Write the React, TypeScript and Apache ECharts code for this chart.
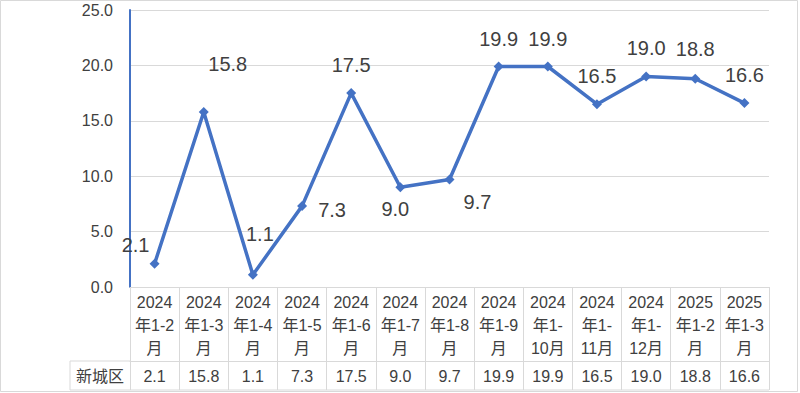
import React, { useEffect, useRef } from "react";
import * as echarts from "echarts";

const categories = [
  "2024年1-2月", "2024年1-3月", "2024年1-4月", "2024年1-5月", "2024年1-6月",
  "2024年1-7月", "2024年1-8月", "2024年1-9月", "2024年1-10月", "2024年1-11月",
  "2024年1-12月", "2025年1-2月", "2025年1-3月",
];
const seriesName = "新城区";
const values = [2.1, 15.8, 1.1, 7.3, 17.5, 9.0, 9.7, 19.9, 19.9, 16.5, 19.0, 18.8, 16.6];
const yTicks = [0, 5, 10, 15, 20, 25];

// label placement (styling), relative to the point
const labelOffsets: [number, number][] = [
  [-19, -19], [24, -48], [7, -41], [30, 4], [0, -28], [-5, 22], [28, 22],
  [0, -28], [0, -28], [0, -28], [0, -28], [0, -30], [0, -28],
];

const FONT = "'Liberation Sans', 'Noto Sans CJK SC', sans-serif";
const TXT = "#404040";
const GRID = "#d9d9d9";
const BLUE = "#4472C4";

function wrapCat(s: string) {
  const year = s.slice(0, 4);
  const rest = s.slice(4);
  const m = rest.match(/^(年1-)(\d+)(月)$/);
  if (!m) return s;
  if (m[2].length > 1) return `${year}\n${m[1]}\n${m[2]}${m[3]}`;
  return `${year}\n${m[1]}${m[2]}\n${m[3]}`;
}

export default function App() {
  const ref = useRef<HTMLDivElement>(null);
  useEffect(() => {
    document.body.style.margin = "0";
    const chart = echarts.init(ref.current!, null, { renderer: "svg" });
    const left = 130, right = 31, top = 10, bottom = 106;
    const axisY = 393 - bottom;
    chart.setOption({
      animation: false,
      textStyle: { fontFamily: FONT },
      grid: { left, right, top, bottom, containLabel: false },
      xAxis: [
        {
          type: "category",
          data: categories,
          boundaryGap: true,
          axisLine: { show: true, lineStyle: { color: GRID, width: 1 } },
          axisTick: { show: true, interval: 0, length: 74, lineStyle: { color: GRID, width: 1 } },
          axisLabel: {
            interval: 0,
            formatter: (v: string) => wrapCat(v),
            color: TXT,
            fontSize: 16,
            lineHeight: 23,
            margin: 4,
            fontFamily: FONT,
          },
        },
        {
          type: "category",
          data: values.map((v) => v.toFixed(1)),
          position: "bottom",
          offset: 74,
          boundaryGap: true,
          axisLine: { show: true, lineStyle: { color: GRID, width: 1 } },
          axisTick: { show: true, interval: 0, length: 29, lineStyle: { color: GRID, width: 1 } },
          axisLabel: { interval: 0, color: TXT, fontSize: 16, lineHeight: 16, margin: 7, fontFamily: FONT },
        },
      ],
      yAxis: {
        type: "value",
        min: yTicks[0],
        max: yTicks[yTicks.length - 1],
        interval: 5,
        axisLine: { show: true, lineStyle: { color: BLUE, width: 2 } },
        axisTick: { show: false },
        splitLine: { show: true, lineStyle: { color: GRID, width: 1 } },
        axisLabel: {
          formatter: (v: number) => v.toFixed(1),
          color: TXT,
          fontSize: 16,
          margin: 17,
          fontFamily: FONT,
        },
      },
      series: [
        {
          name: seriesName,
          type: "line",
          xAxisIndex: 0,
          data: values.map((v, i) => ({
            value: v,
            label: { offset: labelOffsets[i] },
          })),
          symbol: "diamond",
          symbolSize: 10,
          lineStyle: { color: BLUE, width: 3.5 },
          itemStyle: { color: BLUE },
          label: {
            show: true,
            position: "inside",
            formatter: (p: any) => Number(p.value).toFixed(1),
            color: TXT,
            fontSize: 20,
            fontFamily: FONT,
            align: "center",
            verticalAlign: "middle",
          },
        },
      ],
      graphic: [
        {
          type: "rect",
          shape: { x: 0.5, y: 0.5, width: 797, height: 391 },
          style: { fill: "none", stroke: GRID, lineWidth: 1 },
          silent: true,
        },
        {
          type: "line",
          shape: { x1: 70, y1: axisY + 74, x2: left, y2: axisY + 74 },
          style: { stroke: GRID, lineWidth: 1 },
        },
        {
          type: "line",
          shape: { x1: 70, y1: axisY + 103, x2: 800 - right, y2: axisY + 103 },
          style: { stroke: GRID, lineWidth: 1 },
        },
        {
          type: "line",
          shape: { x1: 70, y1: axisY + 74, x2: 70, y2: axisY + 103 },
          style: { stroke: GRID, lineWidth: 1 },
        },
        {
          type: "text",
          x: 100,
          y: axisY + 89,
          style: {
            text: seriesName,
            fill: TXT,
            font: `16px ${FONT}`,
            textAlign: "center",
            textVerticalAlign: "middle",
          },
        },
      ],
    });
    return () => chart.dispose();
  }, []);
  return (
    <div
      ref={ref}
      style={{ position: "absolute", left: 0, top: 0, width: 800, height: 393, background: "#fff" }}
    />
  );
}
